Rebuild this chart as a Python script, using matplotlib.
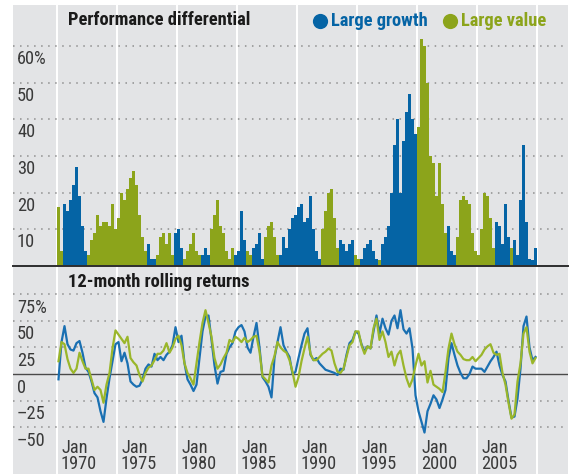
import matplotlib
matplotlib.use('Agg')
import matplotlib.pyplot as plt
import matplotlib.font_manager as fm
import numpy as np

# quarterly readings, index 0 = first quarter of 1970
start_year = 1970

# performance differential in % points: + large growth led, - large value led
differential = [
    -16, -4, 17, 15, 18, 22, 27, 19, 11, 4,
    -3, -7, -9, -14, -11, -12, -12, -11, -17, -10,
    -13, -20, -18, -21, -24, -26, -22, -14, -8, -4,
    6, 2, 2, -3, -8, -9, -6, -9, -3, 9,
    10, 5, -2, -4, -6, -9, -4, -3, 3, 5,
    3, -10, -14, -18, -11, -9, -4, -2, -5, 3,
    4, 15, 7, -4, -3, 5, 6, 9, 2, -8,
    -11, -12, -8, -3, 3, 8, 5, 10, 13, 14,
    16, 17, 12, 13, 19, 10, 4, 2, -10, -15,
    -20, -21, -13, -5, 7, 6, 4, 6, 7, -3,
    -2, 2, 5, 6, 7, 4, 2, -1.5, 6, 8,
    11, 20, 33, 40, 20, 34, 42, 47, 40, 36,
    -38, -62, -60, -50, -30, -28, -19, -28, -17, -9,
    11, 4, 3, -8, -18, -19, -18, -17, -9, -4,
    -3, -10, -20, -19, -13, -5, 12, 11, 6, 17,
    8, -5, 7, 3, 18, 33, 12, 2, 1.5, 5,
]

# 12-month rolling returns, %
growth = [
    -5, 30, 45, 28, 23, 22, 29, 31, 20, 6,
    2, -7, -18, -22, -35, -45, -23, -4, 12, 28,
    30, 12, 20, 10, -7, -10, -12, -11, -5, 5,
    9, 7, 19, 13, 16, 13, 18, 21, 27, 44,
    30, 36, 10, -5, -10, -16, -10, 15, 40, 54,
    55, 32, 8, -9, 2, 3, 19, 25, 29, 40,
    44, 46, 40, 25, 20, 35, 48, 25, -3, -7,
    -12, -22, 15, 30, 44, 27, 21, 16, 0, 2,
    15, 27, 38, 43, 18, 13, 15, 10, 7, 4,
    3, 2, 1, -1, 5, 4, 18, 29, 32, 40,
    38, 28, 21, 26, 24, 40, 55, 38, 52, 43,
    37, 50, 55, 43, 60, 42, 38, 43, 24, -20,
    -35, -45, -55, -35, -28, -20, -24, -32, -24, -15,
    15, 29, 18, 8, 1, -4, -4, 0, 7, 5,
    5, 5, 2, 7, 12, 16, 21, 8, -1, -7,
    -25, -41, -40, -23, 5, 45, 54, 25, 13, 16,
]

value = [
    12, 30, 28, 14, 5, 1, 5, 20, 12, 5,
    5, -5, -15, -12, -15, -27, -10, 1, 24, 41,
    37, 33, 29, 35, 15, 11, 8, -1, -7, 1,
    6, 8, 13, 19, 19, 22, 29, 20, 25, 33,
    36, 27, 10, 1, -4, -10, 10, 30, 48, 60,
    48, 35, 15, 5, 9, 15, 20, 32, 30, 35,
    33, 30, 34, 30, 32, 35, 36, 21, -2, -5,
    -8, 8, 17, 30, 25, 22, 20, 13, 2, -12,
    -3, 12, 24, 35, 19, 13, 13, 16, 19, 21,
    24, 22, 10, 2, 1, 5, 16, 27, 30, 40,
    40, 27, 19, 26, 24, 43, 52, 32, 40, 30,
    16, 21, 8, 18, 22, 8, -4, -12, -5, 8,
    19, 8, 12, -8, 3, -10, -12, -14, -17, 2,
    24, 38, 28, 21, 18, 14, 13, 13, 16, 12,
    15, 18, 23, 26, 28, 20, 18, 19, 1, -10,
    -27, -42, -38, -7, 10, 38, 44, 21, 10, 15,
]

grid_years = list(range(1970, 2011, 5))
label_years = list(range(1970, 2006, 5))
top_ticks = [10, 20, 30, 40, 50, 60]
bottom_ticks = [75, 50, 25, 0, -25, -50]

blue = '#0564a5'
green = '#8ca41b'
line_blue = '#1a70b2'
line_green = '#9ab62a'
panel = '#e3e4e6'
dots = '#8e8e8e'
ink = '#3a3a3a'


# look for a condensed / narrow face; the original uses a condensed grotesque
def find_narrow(bold):
    prefs = ['robotocondensed', 'liberationsansnarrow', 'notosans-condensed',
             'notosanscondensed', 'opensans-condensed', 'opensanscondensed',
             'dejavusanscondensed', 'condensed', 'narrow']
    best = None
    for f in fm.fontManager.ttflist:
        p = f.fname.lower().replace(' ', '').replace('_', '')
        p = p.split('/')[-1]
        if 'italic' in p or 'oblique' in p:
            continue
        if 'condensed' not in p and 'narrow' not in p:
            continue
        if any(k in p for k in ('extracondensed', 'semicondensed', 'ultracondensed')):
            continue
        is_bold = 'bold' in p and not any(k in p for k in ('semibold', 'extrabold', 'demibold'))
        other = any(k in p for k in ('light', 'thin', 'medium', 'black', 'semibold',
                                      'extrabold', 'demibold', 'heavy'))
        if bold and not is_bold:
            continue
        if not bold and (is_bold or other):
            continue
        rank = next((i for i, k in enumerate(prefs) if k in p), len(prefs))
        if best is None or rank < best[0]:
            best = (rank, f.fname)
    return None if best is None else best[1]


reg_path = find_narrow(False)
bold_path = find_narrow(True)
if reg_path:
    reg_font = fm.FontProperties(fname=reg_path, size=13.2)
else:
    reg_font = fm.FontProperties(family='Liberation Sans', size=11)
if bold_path:
    bold_font = fm.FontProperties(fname=bold_path, size=13.3)
else:
    bold_font = fm.FontProperties(family='Liberation Sans', weight='bold', size=11.5)

W, H = 570, 474
fig = plt.figure(figsize=(W / 100, H / 100), dpi=100)


# 1 px per month, Jan 1970 at x = 57
def year_px(yr):
    return 57 + (yr - 1970) * 12


x0 = 1970 - 44 / 12
x1 = 1970 + 511 / 12

# background panel, in pixel coordinates
bg = fig.add_axes([13 / W, 0, 555 / W, 1 - 5 / H])
bg.set_xlim(13, 568)
bg.set_ylim(474, 5)
bg.set_facecolor(panel)
for s in bg.spines.values():
    s.set_visible(False)
bg.set_xticks([])
bg.set_yticks([])
for yr in grid_years:
    bg.axvline(year_px(yr), color='white', lw=1.4, zorder=1)

# top panel: performance differential
top_scale = 36.67 / 10  # px per % point
top = fig.add_axes([13 / W, 1 - 266 / H, 555 / W, 261 / H])
top.set_xlim(x0, x1)
top.set_ylim(0, 261 / top_scale)
top.axis('off')
for v in top_ticks:
    top.axhline(v, color=dots, lw=1.1, ls=(0, (1, 3.6)), zorder=1)

x_left = start_year + np.arange(len(differential)) / 4
diff = np.array(differential)
bar_colors = [blue if d > 0 else green for d in diff]
top.bar(x_left, np.abs(diff), width=0.25, align='edge', color=bar_colors,
        lw=0, zorder=2)
top.axhline(0, color='#2e2e2e', lw=1.4, zorder=3, clip_on=False)

# bottom panel: 12-month rolling returns
bot_scale = 26.6 / 25
bot = fig.add_axes([13 / W, 0, 555 / W, 204 / H])
bot.set_xlim(x0, x1)
bot.set_ylim(-100 / bot_scale, 104 / bot_scale)
bot.axis('off')
for v in bottom_ticks:
    if v != 0:
        bot.axhline(v, color=dots, lw=1.1, ls=(0, (1, 3.6)), zorder=1)
bot.axhline(0, color='#4a4a4a', lw=1.0, zorder=2)

x_mid = x_left + 0.125
bot.plot(x_mid, growth, color=line_blue, lw=1.6, zorder=3)
bot.plot(x_mid, value, color=line_green, lw=1.6, zorder=4)

# titles and legend
bg.text(68, 20, 'Performance differential', fontproperties=bold_font,
        color='#1a1a1a', ha='left', va='center')
bg.text(68, 282, '12-month rolling returns', fontproperties=bold_font,
        color='#1a1a1a', ha='left', va='center')

bg.scatter([320], [21], s=120, color=blue, lw=0, zorder=5)
bg.text(331, 21, 'Large growth', fontproperties=bold_font, color=blue,
        ha='left', va='center')
bg.scatter([450], [21], s=120, color=green, lw=0, zorder=5)
bg.text(461, 21, 'Large value', fontproperties=bold_font, color=green,
        ha='left', va='center')

# tick labels sit just under their gridline
for v in top_ticks:
    lab = f'{v}%' if v == 60 else str(v)
    bg.text(17, 266 - v * top_scale + 13, lab, fontproperties=reg_font,
            color=ink, ha='left', va='center')

for v in bottom_ticks:
    if v == 75:
        lab = '75%'
    elif v < 0:
        lab = '\u2013' + str(-v)
    else:
        lab = str(v)
    bg.text(17, 374 - v * bot_scale + 13.5, lab, fontproperties=reg_font,
            color=ink, ha='left', va='center')

for yr in label_years:
    bg.text(year_px(yr) + 4, 456, f'Jan\n{yr}', fontproperties=reg_font,
            color=ink, ha='left', va='center', linespacing=0.86)

fig.savefig('out.png', dpi=100)
